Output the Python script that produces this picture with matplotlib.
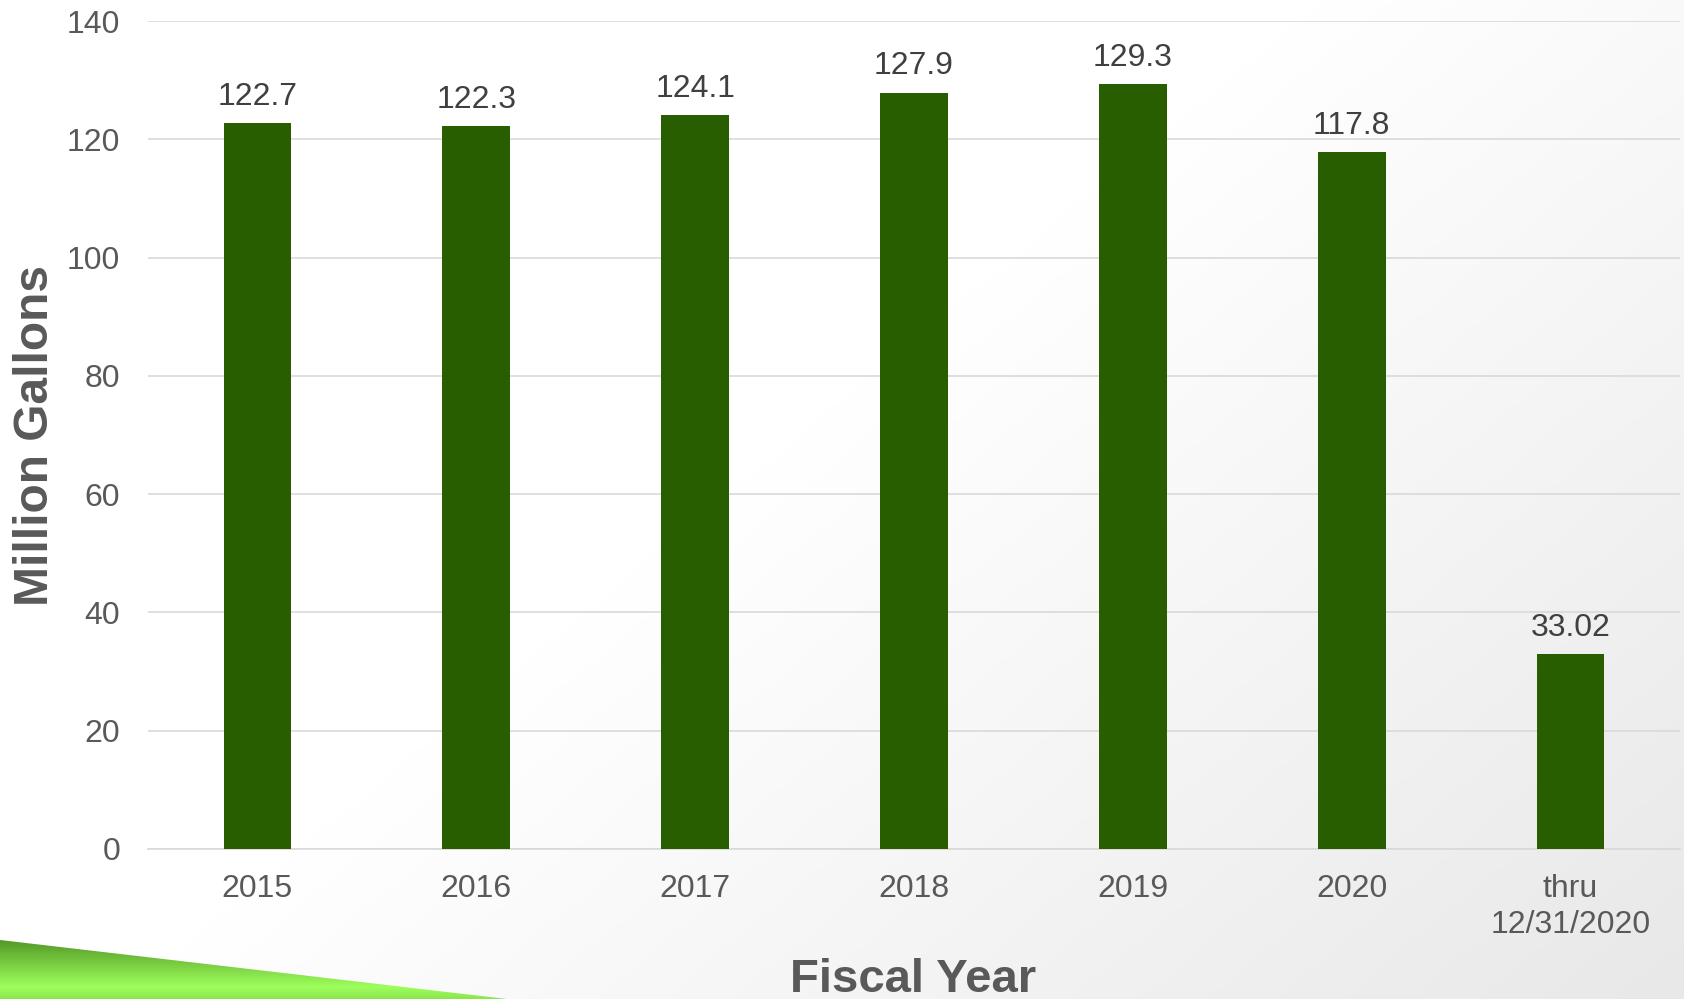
import matplotlib
matplotlib.use('Agg')
import matplotlib.pyplot as plt
import numpy as np
from matplotlib.patches import Polygon

# Data
categories = ['2015', '2016', '2017', '2018', '2019', '2020', 'thru\n12/31/2020']
values = [122.7, 122.3, 124.1, 127.9, 129.3, 117.8, 33.02]
value_labels = ['122.7', '122.3', '124.1', '127.9', '129.3', '117.8', '33.02']

plt.rcParams['font.family'] = ['Liberation Sans', 'DejaVu Sans']

fig = plt.figure(figsize=(16.84, 9.99), dpi=100)

# Background: soft diagonal white-to-grey gradient
bg = fig.add_axes([0, 0, 1, 1], zorder=0)
yy, xx = np.mgrid[0:1:200j, 0:1:300j]
t = np.clip((xx * 0.7 + yy * 0.5 - 0.55) / 0.65, 0, 1)
shade = 1.0 - 0.09 * t
bg.imshow(np.dstack([shade, shade, shade]), extent=[0, 1, 0, 1], aspect='auto',
          origin='upper')

# Green swoosh in the bottom-left corner
sx, sy = 507 / 1684, 1 - 940 / 999
swoosh = Polygon([[0, sy], [sx, 0], [0, 0]], closed=True,
                 transform=bg.transData, facecolor='none', edgecolor='none')
bg.add_patch(swoosh)
g = np.linspace(0, 1, 100)[:, None] * np.ones((1, 10))
dark = np.array([0.33, 0.60, 0.15])
light = np.array([0.62, 1.0, 0.36])
mix = np.clip(1 - np.abs(g - 0.8) / 0.8, 0, 1)[..., None]
img = dark * (1 - mix) + light * mix
im = bg.imshow(img, extent=[0, sx, 0, sy], aspect='auto', origin='upper')
im.set_clip_path(swoosh)
bg.set_xlim(0, 1)
bg.set_ylim(0, 1)
bg.axis('off')

# Main chart
ax = fig.add_axes([148 / 1684, 150 / 999, 1532 / 1684, 828 / 999], zorder=1)
ax.patch.set_alpha(0)
x = np.arange(len(categories))
bars = ax.bar(x, values, width=0.31, color='#285e00', zorder=3)

for b, lab in zip(bars, value_labels):
    ax.annotate(lab, (b.get_x() + b.get_width() / 2, b.get_height()),
                xytext=(0, 8), textcoords='offset points', ha='center',
                va='bottom', fontsize=23, color='#404040')

ax.set_xlim(-0.5, len(categories) - 0.5)
ax.set_ylim(0, 140)
ax.set_yticks(np.arange(0, 141, 20))
ax.set_xticks(x)
ax.set_xticklabels(categories, linespacing=1.25)
ax.tick_params(axis='both', length=0, labelsize=23, labelcolor='#595959')
ax.tick_params(axis='y', pad=20)
ax.tick_params(axis='x', pad=18)
ax.grid(axis='y', color='#d9d9d9', linewidth=1.2, zorder=0)
for s in ['top', 'right', 'left']:
    ax.spines[s].set_visible(False)
ax.spines['bottom'].set_color('#d9d9d9')
ax.spines['bottom'].set_linewidth(1.2)

fig.text(36 / 1684, 1 - 435 / 999, 'Million Gallons', rotation=90, ha='center',
         va='center', fontsize=34.5, fontweight='bold', color='#595959')
fig.text(913 / 1684, 1 - 992 / 999, 'Fiscal Year', ha='center', va='baseline',
         fontsize=34, fontweight='bold', color='#595959')

fig.savefig('out.png', dpi=100)
